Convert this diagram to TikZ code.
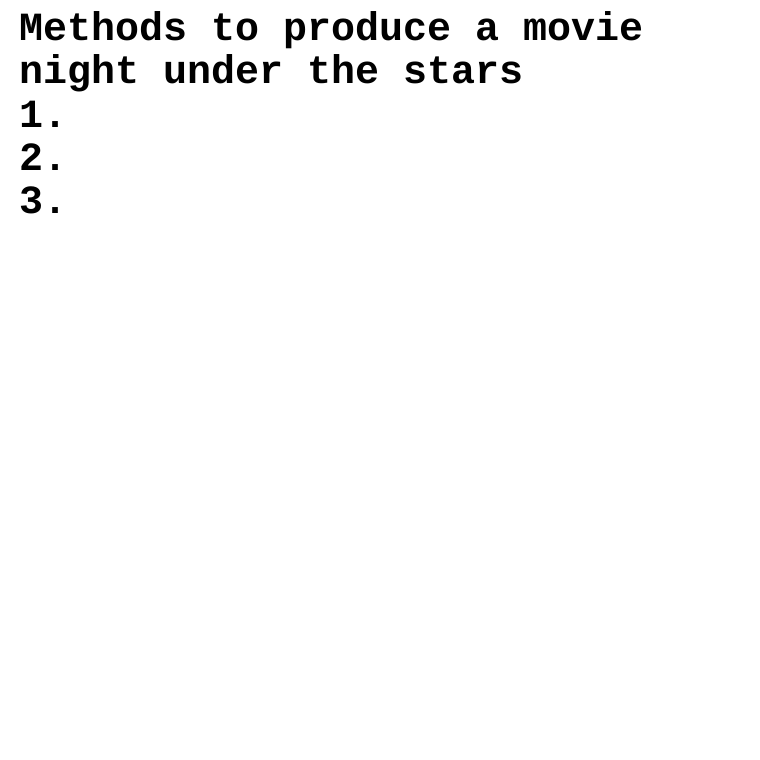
\documentclass[tikz,border=0pt]{standalone}
\usepackage{fontspec}
\setmonofont{Liberation Mono}
\usepackage{tikz}

\begin{document}
\begin{tikzpicture}[x=1pt,y=1pt]
                \tikzset{line/.style={anchor=base west,inner sep=0pt,font=\fontsize{40}{43}\selectfont\ttfamily\bfseries}}
                \useasboundingbox[fill=white] (0,0) rectangle (760,-760);

                \node[line] (title1) at (19,-41){Methods to produce a movie};
                \node[line] (title2) at (19,-84){night under the stars};
                \node[line] (item1) at (19,-127){1.};
                \node[line] (item2) at (19,-170){2.};
                \node[line] (item3) at (19,-213){3.};
        \end{tikzpicture}
\end{document}
